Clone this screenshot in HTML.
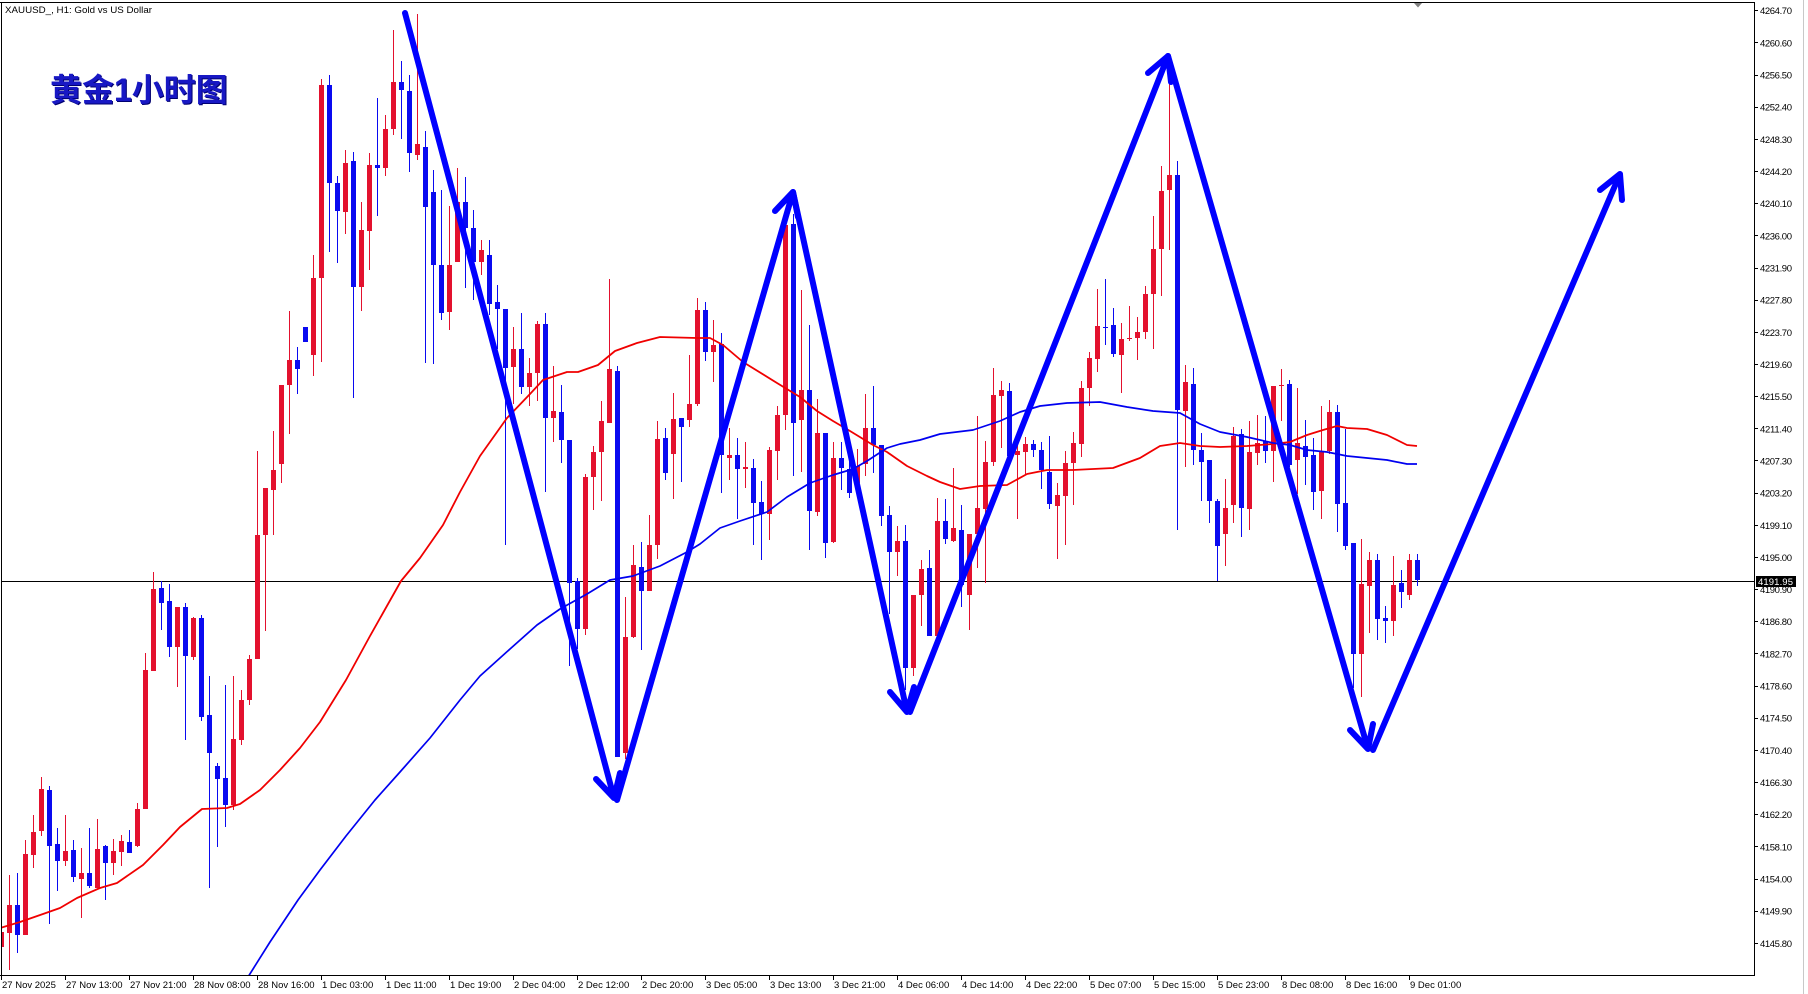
<!DOCTYPE html>
<html><head><meta charset="utf-8"><style>
html,body{margin:0;padding:0;background:#fff;}
svg{display:block;}
.ax{font-family:"Liberation Sans",sans-serif;font-size:9.5px;fill:#000;}
</style></head><body>
<svg width="1808" height="994" viewBox="0 0 1808 994" xmlns="http://www.w3.org/2000/svg">
<rect x="0" y="0" width="1808" height="994" fill="#fff"/>
<defs><clipPath id="pc"><rect x="2" y="3" width="1752" height="972"/></clipPath></defs>
<!-- frame -->
<line x1="0" y1="2.5" x2="1755" y2="2.5" stroke="#000" stroke-width="1"/>
<line x1="1.5" y1="2" x2="1.5" y2="976" stroke="#000" stroke-width="1"/>
<line x1="0" y1="975.5" x2="1755" y2="975.5" stroke="#000" stroke-width="1"/>
<line x1="1754.5" y1="2" x2="1754.5" y2="976" stroke="#000" stroke-width="1"/>
<line x1="1803.5" y1="0" x2="1803.5" y2="994" stroke="#c8c8c8" stroke-width="1"/>
<polygon points="1414,3 1422,3 1418,7.5" fill="#808080"/>
<g clip-path="url(#pc)">
<!-- current price line -->
<line x1="0" y1="581.5" x2="1754" y2="581.5" stroke="#000" stroke-width="1"/>
<g shape-rendering="crispEdges">
<path fill="none" stroke="#e3112e" stroke-width="1" d="M1.5 925V955M9.5 875V970M25.5 840V935M33.5 815V868M41.5 777V836M65.5 815V866M81.5 848V918M97.5 819V888M113.5 839V875M121.5 835V866M137.5 803V847M145.5 653V809M153.5 572V671M177.5 607V687M193.5 617V660M233.5 676V810M241.5 690V745M249.5 655V705M257.5 451V659M265.5 488V631M273.5 431V535M281.5 385V483M289.5 311V434M313.5 255V376M321.5 79V362M345.5 150V234M361.5 202V311M369.5 153V270M385.5 115V176M393.5 30V135M417.5 14V160M449.5 206V330M457.5 168V262M481.5 240V275M513.5 327V404M529.5 358V406M537.5 321V401M553.5 366V442M585.5 474V635M593.5 446V510M601.5 401V501M609.5 279V423M625.5 597V759M633.5 545V638M649.5 515V591M657.5 421V559M673.5 393V499M689.5 355V427M697.5 298V406M713.5 320V382M729.5 428V480M745.5 442V488M769.5 447V540M777.5 406V480M785.5 214V430M801.5 290V472M817.5 399V516M833.5 442V543M857.5 449V483M865.5 394V476M897.5 526V576M913.5 595V676M921.5 560V626M937.5 498V638M953.5 468V542M969.5 534V630M977.5 416V568M985.5 441V583M993.5 368V466M1001.5 381V448M1017.5 442V519M1025.5 437V474M1057.5 483V559M1065.5 451V545M1073.5 432V505M1081.5 381V457M1089.5 352V406M1097.5 289V372M1121.5 323V393M1129.5 306V341M1137.5 317V360M1145.5 286V339M1153.5 216V349M1161.5 166V296M1169.5 55V250M1185.5 365V467M1225.5 479V566M1233.5 427V523M1249.5 421V530M1257.5 415V465M1273.5 386V482M1281.5 369V421M1297.5 388V494M1321.5 406V519M1329.5 400V454M1361.5 539V697M1369.5 552V633M1393.5 556V636M1409.5 554V600"/>
<path fill="#e3112e" d="M-1 932h5v15h-5zM7 905h5v28h-5zM23 854h5v81h-5zM31 832h5v23h-5zM39 789h5v42h-5zM63 851h5v10h-5zM79 873h5v6h-5zM95 849h5v39h-5zM111 851h5v12h-5zM119 841h5v11h-5zM135 809h5v37h-5zM143 670h5v139h-5zM151 589h5v82h-5zM175 607h5v40h-5zM191 618h5v39h-5zM231 739h5v66h-5zM239 700h5v40h-5zM247 659h5v41h-5zM255 535h5v124h-5zM263 488h5v47h-5zM271 470h5v20h-5zM279 385h5v79h-5zM287 360h5v25h-5zM311 278h5v77h-5zM319 85h5v193h-5zM343 163h5v49h-5zM359 230h5v57h-5zM367 165h5v66h-5zM383 129h5v39h-5zM391 82h5v47h-5zM415 144h5v11h-5zM447 265h5v47h-5zM455 202h5v60h-5zM479 250h5v12h-5zM511 349h5v18h-5zM527 373h5v14h-5zM535 324h5v49h-5zM551 411h5v7h-5zM583 477h5v152h-5zM591 452h5v25h-5zM599 421h5v31h-5zM607 369h5v54h-5zM623 637h5v116h-5zM631 565h5v72h-5zM647 545h5v46h-5zM655 439h5v106h-5zM671 419h5v35h-5zM687 404h5v16h-5zM695 310h5v94h-5zM711 345h5v7h-5zM727 455h5v3h-5zM743 467h5v2h-5zM767 450h5v64h-5zM775 415h5v36h-5zM783 225h5v190h-5zM799 390h5v30h-5zM815 433h5v79h-5zM831 458h5v84h-5zM855 466h5v17h-5zM863 428h5v36h-5zM895 541h5v11h-5zM911 595h5v73h-5zM919 569h5v26h-5zM935 521h5v115h-5zM951 528h5v13h-5zM967 534h5v61h-5zM975 508h5v26h-5zM983 462h5v47h-5zM991 395h5v67h-5zM999 390h5v6h-5zM1015 451h5v4h-5zM1023 444h5v8h-5zM1055 495h5v11h-5zM1063 463h5v33h-5zM1071 443h5v20h-5zM1079 388h5v56h-5zM1087 358h5v30h-5zM1095 326h5v33h-5zM1119 339h5v16h-5zM1127 338h5v1h-5zM1135 332h5v6h-5zM1143 294h5v38h-5zM1151 249h5v45h-5zM1159 191h5v58h-5zM1167 175h5v15h-5zM1183 382h5v29h-5zM1223 508h5v26h-5zM1231 436h5v69h-5zM1247 452h5v57h-5zM1255 443h5v10h-5zM1271 386h5v65h-5zM1279 385h5v1h-5zM1295 443h5v17h-5zM1319 452h5v39h-5zM1327 412h5v39h-5zM1359 584h5v70h-5zM1367 560h5v26h-5zM1391 585h5v36h-5zM1407 560h5v35h-5z"/>
<path fill="none" stroke="#0a0af0" stroke-width="1" d="M17.5 873V953M49.5 786V924M57.5 828V891M73.5 840V882M89.5 828V888M105.5 845V900M129.5 830V853M161.5 581V630M169.5 584V657M185.5 603V740M201.5 615V721M209.5 676V888M217.5 763V847M225.5 685V827M297.5 347V394M305.5 327V342M329.5 75V252M337.5 176V263M353.5 152V398M377.5 98V216M401.5 61V139M409.5 75V172M425.5 131V363M433.5 170V364M441.5 190V320M465.5 177V288M473.5 210V300M489.5 240V315M497.5 285V349M505.5 309V545M521.5 313V394M545.5 313V492M561.5 385V463M569.5 440V666M577.5 578V649M617.5 366V757M641.5 542V650M665.5 428V480M681.5 418V482M705.5 302V361M721.5 333V493M737.5 438V519M753.5 459V545M761.5 481V560M793.5 214V476M809.5 325V550M825.5 433V558M841.5 442V490M849.5 455V498M873.5 386V473M881.5 445V526M889.5 506V614M905.5 525V690M929.5 550V636M945.5 499V544M961.5 505V607M1009.5 383V456M1033.5 440V457M1041.5 442V489M1049.5 436V509M1105.5 279V345M1113.5 308V357M1177.5 161V530M1193.5 368V465M1201.5 433V501M1209.5 460V523M1217.5 499V581M1241.5 429V537M1265.5 416V463M1289.5 380V467M1305.5 420V485M1313.5 438V510M1337.5 405V532M1345.5 429V550M1353.5 543V688M1377.5 554V640M1385.5 606V643M1401.5 570V608M1417.5 554V586"/>
<path fill="#0a0af0" d="M15 905h5v30h-5zM47 790h5v56h-5zM55 844h5v17h-5zM71 850h5v27h-5zM87 873h5v13h-5zM103 846h5v17h-5zM127 842h5v11h-5zM159 588h5v15h-5zM167 601h5v46h-5zM183 607h5v49h-5zM199 618h5v99h-5zM207 715h5v38h-5zM215 766h5v13h-5zM223 778h5v27h-5zM295 360h5v9h-5zM303 327h5v15h-5zM327 85h5v98h-5zM335 183h5v28h-5zM351 161h5v126h-5zM375 165h5v3h-5zM399 82h5v8h-5zM407 91h5v62h-5zM423 147h5v60h-5zM431 192h5v73h-5zM439 265h5v48h-5zM463 202h5v26h-5zM471 228h5v34h-5zM487 255h5v49h-5zM495 302h5v7h-5zM503 309h5v59h-5zM519 349h5v38h-5zM543 324h5v94h-5zM559 412h5v28h-5zM567 440h5v143h-5zM575 581h5v48h-5zM615 371h5v386h-5zM639 567h5v24h-5zM663 438h5v35h-5zM679 418h5v9h-5zM703 310h5v42h-5zM719 344h5v111h-5zM735 455h5v14h-5zM751 468h5v35h-5zM759 502h5v12h-5zM791 224h5v199h-5zM807 390h5v121h-5zM823 433h5v110h-5zM839 458h5v10h-5zM847 469h5v24h-5zM871 428h5v17h-5zM879 445h5v71h-5zM887 515h5v37h-5zM903 541h5v127h-5zM927 568h5v68h-5zM943 521h5v18h-5zM959 530h5v55h-5zM1007 391h5v65h-5zM1031 444h5v6h-5zM1039 450h5v20h-5zM1047 472h5v32h-5zM1103 327h5v1h-5zM1111 325h5v29h-5zM1175 175h5v235h-5zM1191 384h5v66h-5zM1199 450h5v12h-5zM1207 460h5v41h-5zM1215 501h5v45h-5zM1239 434h5v74h-5zM1263 441h5v10h-5zM1287 384h5v81h-5zM1303 446h5v11h-5zM1311 455h5v37h-5zM1335 412h5v92h-5zM1343 503h5v43h-5zM1351 543h5v111h-5zM1375 560h5v59h-5zM1383 618h5v3h-5zM1399 583h5v9h-5zM1415 560h5v20h-5z"/>
</g>
<!-- moving averages -->
<polyline fill="none" stroke="#f00000" stroke-width="1.8" stroke-linejoin="round" points="0,928 20,922 43,914 60,908 77,898 100,888 117,883 143,865 163,845 180,827 202,809 227,808 240,804 260,790 280,770 300,748 320,722 346,680 370,636 401,581 420,558 443,525 460,492 480,456 507,418 530,394 543,380 567,372 578,372 598,365 615,351 637,343 660,337 697,338 710,338 723,345 743,362 777,383 800,397 817,411 833,421 850,431 873,445 887,452 907,466 927,476 940,482 960,489 980,486 1007,485 1027,474 1047,470 1073,470 1113,468 1140,458 1160,446 1180,443 1200,446 1220,447 1247,446 1273,444 1290,442 1307,435 1323,430 1337,426 1347,428 1367,429 1387,435 1407,445 1417,446"/>
<polyline fill="none" stroke="#0000f0" stroke-width="1.7" stroke-linejoin="round" points="248,977 270,942 298,900 320,870 346,836 375,800 400,772 430,738 460,700 480,676 510,649 537,625 560,609 587,594 610,580 633,576 660,566 687,552 700,544 720,528 740,521 767,512 787,497 810,483 833,475 853,469 867,461 887,448 900,444 920,440 940,434 973,430 1000,421 1020,412 1040,406 1067,403 1100,402 1127,407 1153,411 1180,413 1200,424 1220,432 1247,437 1273,443 1290,445 1307,450 1327,452 1347,456 1367,458 1387,460 1407,464 1417,464"/>
<!-- trend arrows -->
<g fill="none" stroke="#0000ff" stroke-width="6" stroke-linecap="round" stroke-linejoin="round">
<path d="M405 13L614 798M596 779L614 798L620 773"/>
<path d="M617 800L793 192M775 211L793 192L798 217"/>
<path d="M793 192L907 712M890 692L907 712L914 687"/>
<path d="M910 712L1168 56M1148 73L1168 56L1171 82"/>
<path d="M1168 56L1368 749M1350 730L1368 749L1373 724"/>
<path d="M1373 750L1620 174M1600 190L1620 174L1622 200"/>
</g>
</g>
<!-- header text -->
<text x="5" y="13" class="ax" textLength="147" lengthAdjust="spacingAndGlyphs">XAUUSD_, H1:  Gold vs US Dollar</text>
<text x="51" y="102" font-family="'Liberation Sans','Noto Sans CJK SC',sans-serif" font-weight="bold" font-size="32" fill="#000070">黄金1小时图</text>
<text x="50" y="101" font-family="'Liberation Sans','Noto Sans CJK SC',sans-serif" font-weight="bold" font-size="32" fill="#1818c4">黄金1小时图</text>
<!-- price axis -->
<g stroke="#000" stroke-width="1" shape-rendering="crispEdges">
<path d="M1754 10.5h4M1754 42.5h4M1754 75.5h4M1754 107.5h4M1754 139.5h4M1754 171.5h4M1754 203.5h4M1754 235.5h4M1754 268.5h4M1754 300.5h4M1754 332.5h4M1754 364.5h4M1754 396.5h4M1754 428.5h4M1754 460.5h4M1754 493.5h4M1754 525.5h4M1754 557.5h4M1754 589.5h4M1754 621.5h4M1754 653.5h4M1754 686.5h4M1754 718.5h4M1754 750.5h4M1754 782.5h4M1754 814.5h4M1754 846.5h4M1754 879.5h4M1754 911.5h4M1754 943.5h4"/>
</g>
<g class="ax">
<text x="1760" y="14.2" textLength="32">4264.70</text>
<text x="1760" y="46.4" textLength="32">4260.60</text>
<text x="1760" y="78.5" textLength="32">4256.50</text>
<text x="1760" y="110.7" textLength="32">4252.40</text>
<text x="1760" y="142.8" textLength="32">4248.30</text>
<text x="1760" y="175" textLength="32">4244.20</text>
<text x="1760" y="207.2" textLength="32">4240.10</text>
<text x="1760" y="239.3" textLength="32">4236.00</text>
<text x="1760" y="271.5" textLength="32">4231.90</text>
<text x="1760" y="303.6" textLength="32">4227.80</text>
<text x="1760" y="335.8" textLength="32">4223.70</text>
<text x="1760" y="368" textLength="32">4219.60</text>
<text x="1760" y="400.1" textLength="32">4215.50</text>
<text x="1760" y="432.3" textLength="32">4211.40</text>
<text x="1760" y="464.4" textLength="32">4207.30</text>
<text x="1760" y="496.6" textLength="32">4203.20</text>
<text x="1760" y="528.8" textLength="32">4199.10</text>
<text x="1760" y="560.9" textLength="32">4195.00</text>
<text x="1760" y="593.1" textLength="32">4190.90</text>
<text x="1760" y="625.2" textLength="32">4186.80</text>
<text x="1760" y="657.4" textLength="32">4182.70</text>
<text x="1760" y="689.6" textLength="32">4178.60</text>
<text x="1760" y="721.7" textLength="32">4174.50</text>
<text x="1760" y="753.9" textLength="32">4170.40</text>
<text x="1760" y="786" textLength="32">4166.30</text>
<text x="1760" y="818.2" textLength="32">4162.20</text>
<text x="1760" y="850.4" textLength="32">4158.10</text>
<text x="1760" y="882.5" textLength="32">4154.00</text>
<text x="1760" y="914.7" textLength="32">4149.90</text>
<text x="1760" y="946.8" textLength="32">4145.80</text>
</g>
<rect x="1756" y="576" width="40" height="11" fill="#000"/>
<text x="1758" y="585" class="ax" style="fill:#fff" textLength="35">4191.95</text>
<!-- time axis -->
<g stroke="#000" stroke-width="1" shape-rendering="crispEdges">
<path d="M1.5 975v5M65.5 975v5M129.5 975v5M193.5 975v5M257.5 975v5M321.5 975v5M385.5 975v5M449.5 975v5M513.5 975v5M577.5 975v5M641.5 975v5M705.5 975v5M769.5 975v5M833.5 975v5M897.5 975v5M961.5 975v5M1025.5 975v5M1089.5 975v5M1153.5 975v5M1217.5 975v5M1281.5 975v5M1345.5 975v5M1409.5 975v5"/>
</g>
<g class="ax">
<text x="2" y="988">27 Nov 2025</text>
<text x="66" y="988">27 Nov 13:00</text>
<text x="130" y="988">27 Nov 21:00</text>
<text x="194" y="988">28 Nov 08:00</text>
<text x="258" y="988">28 Nov 16:00</text>
<text x="322" y="988">1 Dec 03:00</text>
<text x="386" y="988">1 Dec 11:00</text>
<text x="450" y="988">1 Dec 19:00</text>
<text x="514" y="988">2 Dec 04:00</text>
<text x="578" y="988">2 Dec 12:00</text>
<text x="642" y="988">2 Dec 20:00</text>
<text x="706" y="988">3 Dec 05:00</text>
<text x="770" y="988">3 Dec 13:00</text>
<text x="834" y="988">3 Dec 21:00</text>
<text x="898" y="988">4 Dec 06:00</text>
<text x="962" y="988">4 Dec 14:00</text>
<text x="1026" y="988">4 Dec 22:00</text>
<text x="1090" y="988">5 Dec 07:00</text>
<text x="1154" y="988">5 Dec 15:00</text>
<text x="1218" y="988">5 Dec 23:00</text>
<text x="1282" y="988">8 Dec 08:00</text>
<text x="1346" y="988">8 Dec 16:00</text>
<text x="1410" y="988">9 Dec 01:00</text>
</g>
</svg>
</body></html>
